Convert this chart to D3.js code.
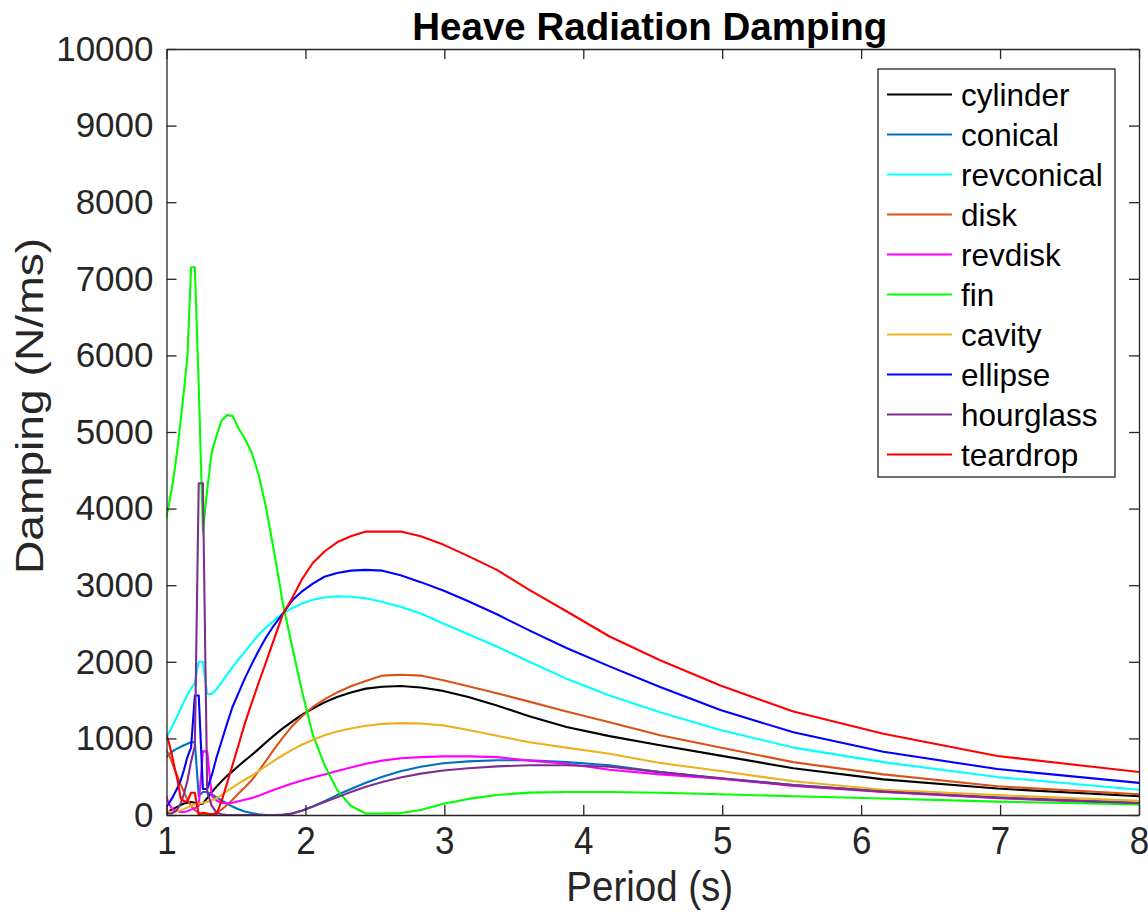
<!DOCTYPE html>
<html><head><meta charset="utf-8">
<script src="https://cdn.jsdelivr.net/npm/d3@7"></script>
<style>
body{margin:0;background:#fff}
svg{display:block}
text{font-family:"Liberation Sans",Arial,Helvetica,sans-serif}
</style>
</head><body>
<svg id="chart" width="1148" height="917"></svg>
<script>
// ---------- data ----------
const periods = [0.997,1.017,1.037,1.058,1.080,1.102,1.126,1.151,1.177,1.204,1.232,1.262,1.293,1.326,1.360,1.396,1.435,1.475,1.518,1.563,1.611,1.662,1.717,1.775,1.837,1.904,1.976,2.053,2.137,2.228,2.327,2.435,2.554,2.685,2.830,2.992,3.173,3.378,3.611,3.879,4.189,4.553,4.987,5.512,6.160,6.981,8.055];

const cylinder   = [30,50,70,90,110,130,150,160,170,160,140,150,220,300,370,440,510,570,640,710,780,860,950,1040,1130,1220,1310,1390,1470,1540,1600,1650,1675,1685,1665,1620,1540,1430,1290,1150,1030,910,775,610,465,345,240];
const conical    = [750,790,820,850,870,890,910,930,950,950,250,300,300,270,230,190,150,110,75,45,25,10,0,0,5,20,55,110,180,260,340,420,500,570,630,675,700,715,715,690,650,560,480,390,310,230,160];
const revconical = [1000,1070,1140,1220,1300,1390,1480,1570,1650,1720,2000,2000,1580,1580,1640,1730,1830,1930,2030,2130,2240,2350,2450,2540,2630,2700,2760,2810,2840,2855,2850,2830,2780,2720,2630,2500,2360,2200,2000,1780,1560,1340,1110,880,690,495,320];
const disk       = [850,790,700,600,500,400,300,200,120,60,30,10,5,10,30,70,130,200,280,360,450,570,710,860,1010,1160,1290,1410,1510,1600,1680,1750,1820,1830,1820,1760,1680,1590,1480,1350,1210,1040,880,690,530,375,265];
const revdisk    = [250,150,90,60,50,40,40,50,70,90,120,830,830,250,190,160,150,160,180,200,220,250,290,330,370,410,450,490,530,575,620,670,710,740,755,765,765,755,710,670,590,530,475,380,300,220,140];
const fin        = [3870,4050,4250,4500,4800,5150,5550,6000,7150,7150,5600,3700,4250,4740,4950,5150,5220,5210,5050,4915,4740,4450,4010,3430,2770,2200,1612,1048,655,328,118,20,20,25,65,148,210,262,292,300,300,290,270,245,215,175,135];
const cavity     = [60,50,40,40,50,60,80,100,120,140,150,160,170,190,220,260,310,360,410,460,510,570,640,710,780,850,920,980,1040,1090,1130,1165,1190,1200,1195,1170,1110,1035,950,880,800,680,575,440,330,260,180];
const ellipse    = [100,150,210,280,360,450,590,760,880,1560,1560,340,340,520,750,960,1190,1410,1590,1780,1960,2140,2320,2480,2630,2800,2920,3020,3110,3160,3190,3200,3190,3130,3040,2930,2790,2620,2410,2180,1940,1670,1370,1080,825,600,410];
const hourglass  = [30,20,20,40,80,150,280,450,700,900,4330,4330,300,120,30,10,0,0,0,0,0,0,0,0,0,20,60,110,170,230,300,370,430,490,540,580,610,635,650,650,630,560,480,390,305,225,150];
const teardrop   = [1060,950,800,620,450,220,180,180,290,290,0,30,20,10,10,180,410,650,910,1190,1450,1720,2000,2300,2620,2830,3080,3290,3440,3560,3640,3700,3700,3700,3640,3530,3380,3200,2940,2660,2330,2020,1690,1350,1060,770,550];

const seriesNames  = ["cylinder","conical","revconical","disk","revdisk","fin","cavity","ellipse","hourglass","teardrop"];
const seriesValues = [cylinder,conical,revconical,disk,revdisk,fin,cavity,ellipse,hourglass,teardrop];
const seriesColors = ["#000000","#0072BD","#00FFFF","#D95319","#FF00FF","#00FF00","#EDB120","#0000FF","#7E2F8E","#FF0000"];

const xTicks = [1,2,3,4,5,6,7,8];
const yTicks = [0,1000,2000,3000,4000,5000,6000,7000,8000,9000,10000];

const titleText = "Heave Radiation Damping";
const xLabelText = "Period (s)";
const yLabelText = "Damping (N/ms)";

// ---------- layout ----------
const m = {left:166.5, right:1139, top:49, bottom:815};
const axisColor = "#262626";
const svg = d3.select("#chart");

const x = d3.scaleLinear().domain([1,8]).range([m.left, m.right]);
const y = d3.scaleLinear().domain([0,10000]).range([m.bottom, m.top]);

svg.append("rect").attr("x",0).attr("y",0).attr("width",1148).attr("height",917).attr("fill","#fff");

svg.append("defs").append("clipPath").attr("id","plotclip")
  .append("rect").attr("x",m.left).attr("y",m.top)
  .attr("width",m.right-m.left).attr("height",m.bottom-m.top);

// lines
const line = d3.line().x(d=>x(d[0])).y(d=>y(d[1]));
const gLines = svg.append("g").attr("clip-path","url(#plotclip)");
seriesValues.forEach((vals,i)=>{
  const pts = periods.map((p,j)=>[p, vals[j]]);
  gLines.append("path").datum(pts)
    .attr("d", line)
    .attr("fill","none")
    .attr("stroke", seriesColors[i])
    .attr("stroke-width", 2.1)
    .attr("stroke-linejoin","round");
});

// axes
const tick = 10;
function styleAxis(g){
  g.selectAll("path.domain").attr("stroke",axisColor).attr("stroke-width",1.3);
  g.selectAll(".tick line").attr("stroke",axisColor).attr("stroke-width",1.3);
  g.selectAll(".tick text").attr("fill",axisColor).attr("font-size",35)
    .attr("font-family",'"Liberation Sans",Arial,Helvetica,sans-serif');
}
const gx = svg.append("g").attr("transform",`translate(0,${m.bottom})`)
  .call(d3.axisBottom(x).tickValues(xTicks).tickFormat(d3.format("d")).tickSizeInner(-tick).tickSizeOuter(0))
  .call(styleAxis);
// x tick labels: slightly tall glyphs as in the reference
gx.selectAll(".tick text").attr("y",null).attr("dy",null)
  .attr("transform","translate(0,39) scale(1,1.1)");

svg.append("g").attr("transform",`translate(0,${m.top})`)
  .call(d3.axisTop(x).tickValues(xTicks).tickFormat("").tickSizeInner(-tick).tickSizeOuter(0))
  .call(styleAxis);
svg.append("g").attr("transform",`translate(${m.left},0)`)
  .call(d3.axisLeft(y).tickValues(yTicks).tickFormat(d3.format("d")).tickSizeInner(-tick).tickSizeOuter(0).tickPadding(13))
  .call(styleAxis);
svg.append("g").attr("transform",`translate(${m.right},0)`)
  .call(d3.axisRight(y).tickValues(yTicks).tickFormat("").tickSizeInner(-tick).tickSizeOuter(0))
  .call(styleAxis);

// title & labels
svg.append("text").attr("x",(m.left+m.right)/2 - 3).attr("y",40)
  .attr("text-anchor","middle").attr("font-size",38.5).attr("font-weight","bold")
  .attr("fill","#000").text(titleText);
svg.append("text")
  .attr("transform",`translate(${(m.left+m.right)/2 - 3},901) scale(1,1.1)`)
  .attr("text-anchor","middle").attr("font-size",38.5).attr("fill",axisColor).text(xLabelText);
svg.append("text").attr("transform",`translate(43,406) rotate(-90) scale(1.2,1)`)
  .attr("text-anchor","middle").attr("font-size",38.5).attr("fill",axisColor).text(yLabelText);

// legend
const lg = {x:878, y:69, w:237, h:408, row0:94.5, dy:40};
const gLeg = svg.append("g");
gLeg.append("rect").attr("x",lg.x).attr("y",lg.y).attr("width",lg.w).attr("height",lg.h)
  .attr("fill","#fff").attr("stroke",axisColor).attr("stroke-width",1.3);
seriesNames.forEach((name,i)=>{
  const yy = lg.row0 + i*lg.dy;
  gLeg.append("line").attr("x1",887).attr("x2",952).attr("y1",yy).attr("y2",yy)
    .attr("stroke",seriesColors[i]).attr("stroke-width",2.1);
  gLeg.append("text").attr("x",961).attr("y",yy+11).attr("font-size",31.5)
    .attr("fill","#000").text(name);
});
</script>
</body></html>
